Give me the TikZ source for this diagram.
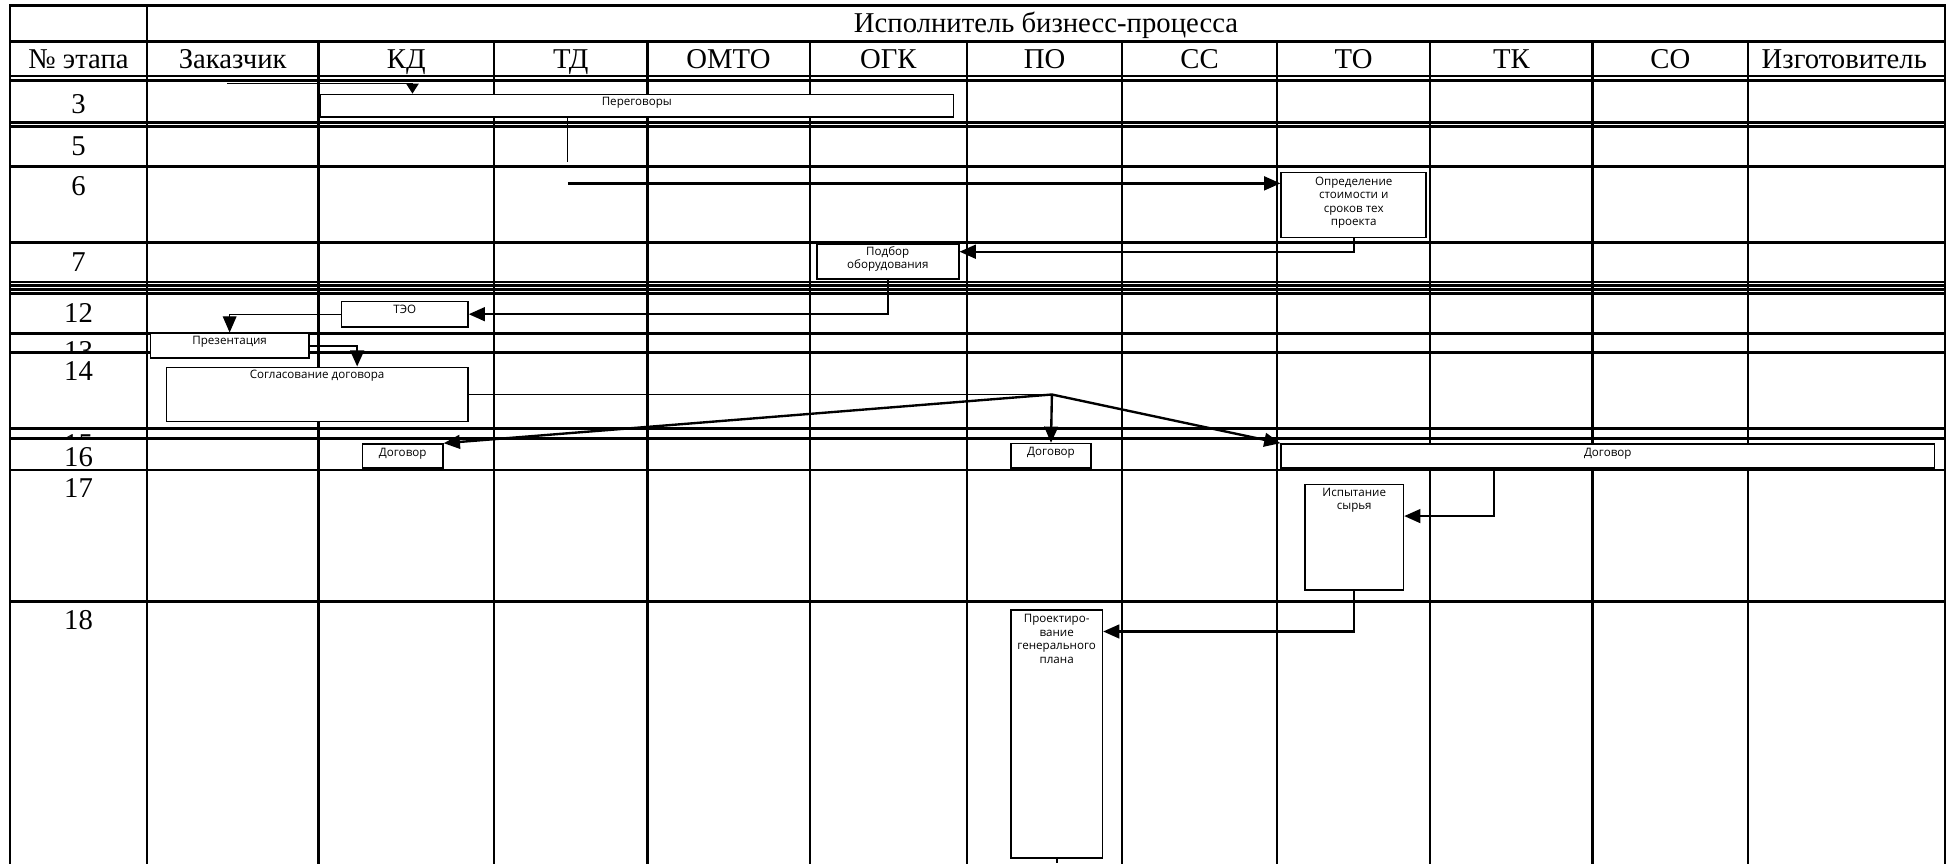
\documentclass[tikz,border=0pt]{standalone}
\usepackage{fontspec}
\setmainfont{Liberation Serif}
\newfontfamily\boxfont{Open Sans}
\usetikzlibrary{arrows.meta,fit,calc}
\begin{document}
\begin{tikzpicture}[x=0.35mm,y=-0.35mm,
  grid/.style={line width=2pt, line cap=rect},
  box/.style={draw, line width=1.3pt, fill=white, inner sep=0pt},
  lbl/.style={font=\boxfont\fontsize{9.3}{10.8}\selectfont, align=center, inner sep=0pt},
  conn/.style={line width=1.9pt},
  thinconn/.style={line width=1pt},
  tip/.style={-{Triangle[length=13pt,width=11pt]}},
  smalltip/.style={-{Triangle[length=8pt,width=10pt]}},
  hdr/.style={font=\fontsize{23}{26}\selectfont, anchor=base, inner sep=0pt},
  num/.style={font=\fontsize{23}{26}\selectfont, inner sep=0pt},
]
\useasboundingbox (0,0) rectangle (1568,695);
% grid
\foreach \y in {4.3,33.3,61.2,64.6,98.5,101.8,134.2,195,227,230,233.2,236.4,268.6,283.9,344.8,352.8,378.3,484.3}
  \draw[grid] (8,\y) -- (1565.7,\y);
\foreach \x in {8,118.3,1565.7}
  \draw[grid] (\x,4.3) -- (\x,695);
\foreach \x in {256.2,397.8,521,651.8,778.4,903.2,1028,1151.1,1282,1407}
  \draw[grid] (\x,33.3) -- (\x,695);
% headers
\node[hdr] (title) at (842,26) {Исполнитель бизнесс-процесса};
\node[hdr] (h0) at (63.2,55) {№ этапа};
\node[hdr] (h1) at (187.3,55) {Заказчик};
\node[hdr] (h2) at (327,55) {КД};
\node[hdr] (h3) at (459.4,55) {ТД};
\node[hdr] (h4) at (586.4,55) {ОМТО};
\node[hdr] (h5) at (715.1,55) {ОГК};
\node[hdr] (h6) at (840.8,55) {ПО};
\node[hdr] (h7) at (965.6,55) {СС};
\node[hdr] (h8) at (1089.6,55) {ТО};
\node[hdr] (h9) at (1216.6,55) {ТК};
\node[hdr] (h10) at (1344.5,55) {СО};
\node[hdr] (h11) at (1484.5,55) {Изготовитель};
% row numbers
\node[num] (r3) at (63.2,84) {3};
\node[num] (r5) at (63.2,117.4) {5};
\node[num] (r6) at (63.2,150) {6};
\node[num] (r7) at (63.2,210.6) {7};
\node[num] (r12) at (63.2,252) {12};
\begin{scope}
  \clip (9,268.6) rectangle (117,283.9);
  \node[num] (r13) at (63.2,282.6) {13};
\end{scope}
\node[num] (r14) at (63.2,298.5) {14};
\begin{scope}
  \clip (9,344.8) rectangle (117,352.8);
  \node[num] (r15) at (63.2,357.6) {15};
\end{scope}
\node[num] (r16) at (63.2,368.3) {16};
\node[num] (r17) at (63.2,392.5) {17};
\node[num] (r18) at (63.2,499) {18};
% boxes
\node[box, fit={(257.6,76) (767.6,94)}, label={[lbl,anchor=north,yshift=-3pt]north:Переговоры}] (per) {};
\node[box, fit={(1031.3,138.7) (1148,191.3)}, label={[lbl,anchor=north,yshift=-4pt]north:Определение\\стоимости и\\сроков тех\\проекта}] (opr) {};
\node[box, fit={(657.5,196.4) (771.7,224.6)}, label={[lbl,anchor=north,yshift=-2.5pt]north:Подбор\\оборудования}] (pod) {};
\node[box, fit={(275,242.8) (376.6,263)}, label={[lbl,anchor=north,yshift=-3.5pt]north:ТЭО}] (teo) {};
\node[box, fit={(121,268.3) (248.7,288.4)}, label={[lbl,anchor=north,yshift=-3pt]north:Презентация}] (prez) {};
\node[box, fit={(134,295.7) (376.6,339.4)}, label={[lbl,anchor=north,yshift=-3pt]north:Согласование договора}] (sogl) {};
\node[box, fit={(291.8,357.4) (356.5,376.5)}, label={[lbl,anchor=north,yshift=-3.5pt]north:Договор}] (dkd) {};
\node[box, fit={(813.6,357.1) (878.3,376.5)}, label={[lbl,anchor=north,yshift=-3.5pt]north:Договор}] (dpo) {};
\node[box, fit={(1031.3,357.4) (1557,376.5)}, label={[lbl,anchor=north,yshift=-3.5pt]north:Договор}] (dw) {};
\node[box, fit={(1050.5,389.9) (1129.6,474.9)}, label={[lbl,anchor=north,yshift=-3.5pt]north:Испытание\\сырья}] (isp) {};
\node[box, fit={(813.8,491) (887.3,690.4)}, label={[lbl,anchor=north,yshift=-4pt]north:Проектиро-\\вание\\генерального\\плана}] (proj) {};
% connectors
\coordinate (a0) at (183,67.5);
\coordinate (a1) at (332,0);
\draw[thinconn,smalltip] (a0) -| (per.north -| a1);
\coordinate (b0) at (457,0);
\coordinate (b1) at (457,130.7);
\draw[thinconn] (per.south -| b0) -- (b1);
\coordinate (c0) at (457,147.6);
\draw[conn,tip] (c0) -- (opr.west |- c0);
\coordinate (k1) at (0,202.6);
\draw[conn,tip] (opr.south) |- (pod.east |- k1);
\draw[conn,tip] (pod.south) |- (teo.east);
\draw[thinconn,tip] (teo.west) -| (prez.north);
\coordinate (k2) at (287.5,0);
\draw[conn,tip] (prez.east) -| (sogl.north -| k2);
\coordinate (jx) at (846.7,0);
\coordinate (J) at (sogl.east -| jx);
\draw[thinconn] (sogl.east) -- (J);
\draw[conn,tip] (J) -- (dkd.north east);
\draw[conn,tip] (J) -- (dpo.north);
\draw[conn,tip] (J) -- (dw.north west);
\coordinate (m0) at (1202.6,0);
\coordinate (m1) at (0,415.4);
\draw[conn,tip] (dw.south -| m0) |- (isp.east |- m1);
\coordinate (k3) at (0,508.3);
\draw[conn,tip] (isp.south) |- (proj.east |- k3);
\coordinate (bot) at (0,695);
\draw[conn] (proj.south) -- (proj.south |- bot);
\end{tikzpicture}
\end{document}
